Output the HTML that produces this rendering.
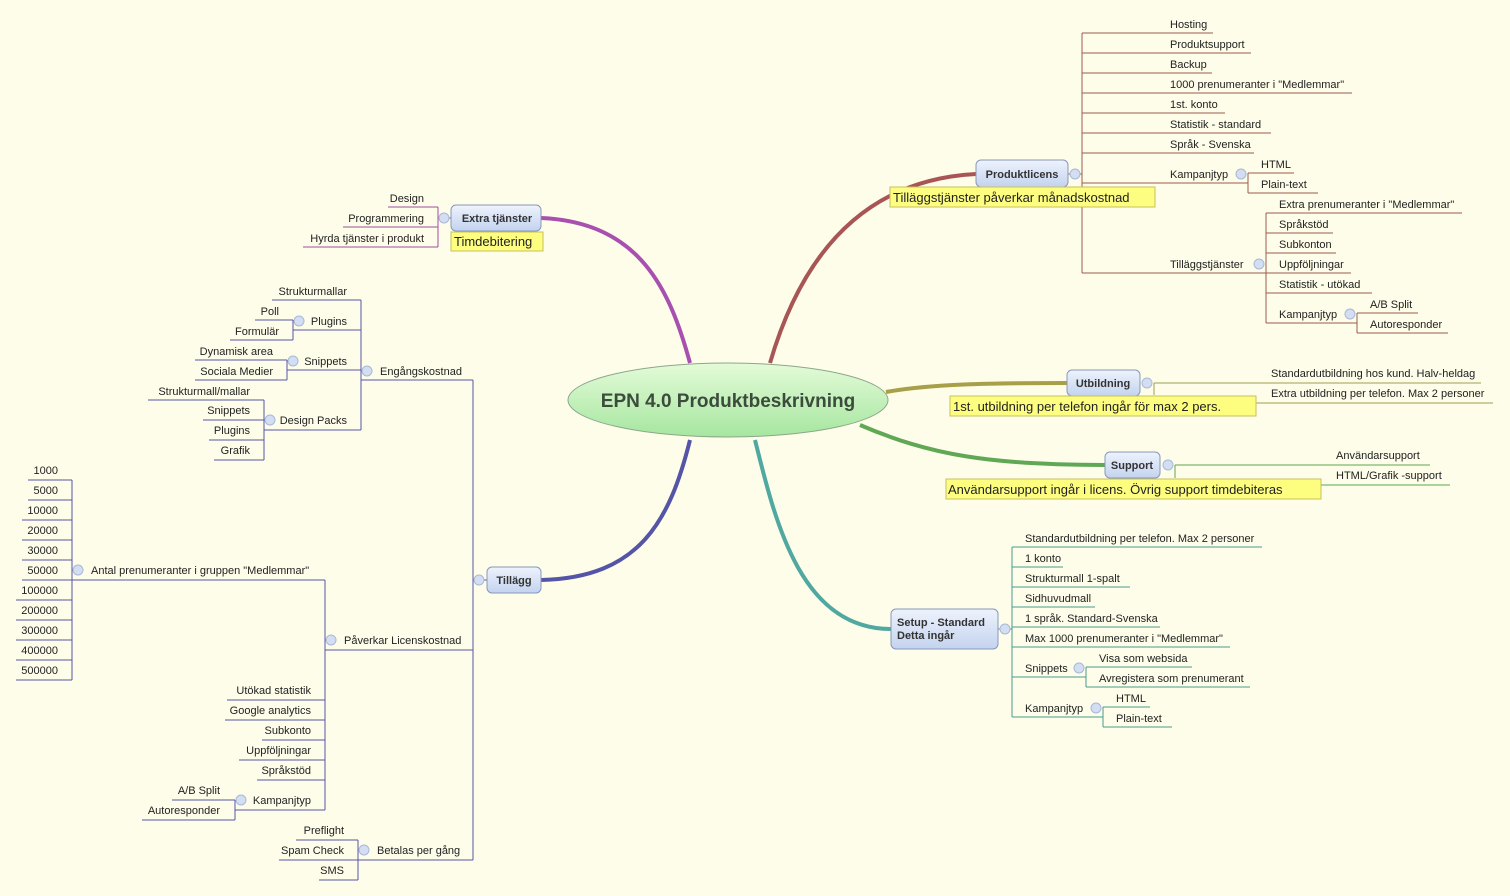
<!DOCTYPE html>
<html><head><meta charset="utf-8"><style>
html,body{margin:0;padding:0;background:#fdfde9;}
svg{display:block;}
text{font-family:"Liberation Sans",sans-serif;font-size:11px;fill:#222;}
.r{text-anchor:end;}
.nb{font-weight:bold;font-size:11px;fill:#333;text-anchor:middle;}
.lb{font-size:13px;fill:#222;}
.pl path{fill:none;stroke:#a05a50;stroke-width:1;}
.pu path{fill:none;stroke:#a050a0;stroke-width:1;}
.bl path{fill:none;stroke:#5858a8;stroke-width:1;}
.tl path{fill:none;stroke:#4a9a8a;stroke-width:1;}
.ol path{fill:none;stroke:#a0a050;stroke-width:1;}
.gr path{fill:none;stroke:#60a850;stroke-width:1;}
.c{fill:#d4def2;stroke:#a8b8d8;stroke-width:1;}
</style></head><body>
<svg width="1510" height="896" viewBox="0 0 1510 896" xmlns="http://www.w3.org/2000/svg">
<defs>
<linearGradient id="eg" x1="0" y1="0" x2="0" y2="1"><stop offset="0" stop-color="#e4fbd8"/><stop offset="1" stop-color="#a6e6a0"/></linearGradient>
<linearGradient id="ng" x1="0" y1="0" x2="0" y2="1"><stop offset="0" stop-color="#eef3fd"/><stop offset="1" stop-color="#c3d3ef"/></linearGradient>
</defs>

<path d="M770,363 C800,260 860,180 976,174" fill="none" stroke="#a85555" stroke-width="4"/>
<path d="M690,363 C670,290 640,222 541,218" fill="none" stroke="#a850b0" stroke-width="4"/>
<path d="M690,440 C670,520 640,578 541,580" fill="none" stroke="#5555a8" stroke-width="4"/>
<path d="M755,440 C775,520 800,629 891,629" fill="none" stroke="#50a8a0" stroke-width="4"/>
<path d="M886,392 C930,384 990,383 1067,383" fill="none" stroke="#a8a048" stroke-width="4"/>
<path d="M860,425 C930,455 990,465 1105,465" fill="none" stroke="#60a855" stroke-width="4"/>

<ellipse cx="728" cy="400" rx="160" ry="37" fill="url(#eg)" stroke="#8aa88a" stroke-width="1"/>
<text x="728" y="407" style="font-size:19px;font-weight:bold;fill:#3c4c3c;text-anchor:middle">EPN 4.0 Produktbeskrivning</text>

<g class="pl">
<path d="M1068,174 H1082"/>
<path d="M1082,33 V273"/>
<path d="M1082,33 H1213"/><path d="M1082,53 H1251"/><path d="M1082,73 H1212"/><path d="M1082,93 H1352"/>
<path d="M1082,113 H1225"/><path d="M1082,133 H1271"/><path d="M1082,153 H1254"/><path d="M1082,183 H1248"/>
<path d="M1082,273 H1266"/>
<path d="M1248,173 V193"/><path d="M1248,173 H1294"/><path d="M1248,193 H1318"/>
<path d="M1266,213 V323"/>
<path d="M1266,213 H1462"/><path d="M1266,233 H1333"/><path d="M1266,253 H1336"/><path d="M1266,273 H1351"/><path d="M1266,293 H1372"/><path d="M1266,323 H1357"/>
<path d="M1357,313 V333"/><path d="M1357,313 H1418"/><path d="M1357,333 H1448"/>
</g>
<text x="1170" y="28">Hosting</text><text x="1170" y="48">Produktsupport</text><text x="1170" y="68">Backup</text>
<text x="1170" y="88">1000 prenumeranter i "Medlemmar"</text><text x="1170" y="108">1st. konto</text>
<text x="1170" y="128">Statistik - standard</text><text x="1170" y="148">Språk - Svenska</text>
<text x="1170" y="178">Kampanjtyp</text><text x="1261" y="168">HTML</text><text x="1261" y="188">Plain-text</text>
<text x="1170" y="268">Tilläggstjänster</text>
<text x="1279" y="208">Extra prenumeranter i "Medlemmar"</text><text x="1279" y="228">Språkstöd</text>
<text x="1279" y="248">Subkonton</text><text x="1279" y="268">Uppföljningar</text><text x="1279" y="288">Statistik - utökad</text>
<text x="1279" y="318">Kampanjtyp</text><text x="1370" y="308">A/B Split</text><text x="1370" y="328">Autoresponder</text>
<circle class="c" cx="1075" cy="174" r="5"/><circle class="c" cx="1241" cy="174" r="5"/><circle class="c" cx="1259" cy="264" r="5"/><circle class="c" cx="1350" cy="314" r="5"/>
<rect x="976" y="160" width="92" height="27" rx="5" fill="url(#ng)" stroke="#8898bb"/>
<text class="nb" x="1022" y="178">Produktlicens</text>
<rect x="890" y="187" width="265" height="20" fill="#fdfd80" stroke="#c8c060"/>
<text class="lb" x="893" y="202">Tilläggstjänster påverkar månadskostnad</text>

<g class="pu">
<path d="M438,218 H451"/><path d="M438,207 V247"/>
<path d="M388,207 H438"/><path d="M343,227 H438"/><path d="M303,247 H438"/>
</g>
<text class="r" x="424" y="202">Design</text><text class="r" x="424" y="222">Programmering</text><text class="r" x="424" y="242">Hyrda tjänster i produkt</text>
<circle class="c" cx="444" cy="218" r="5"/>
<rect x="451" y="205" width="90" height="26" rx="5" fill="url(#ng)" stroke="#8898bb"/>
<text class="nb" x="497" y="222">Extra tjänster</text>
<rect x="451" y="232" width="92" height="19" fill="#fdfd80" stroke="#c8c060"/>
<text class="lb" x="454" y="246">Timdebitering</text>

<g class="ol">
<path d="M1154,383 V395"/><path d="M1154,383 H1481"/><path d="M1256,403 H1493"/>
</g>
<text x="1271" y="377">Standardutbildning hos kund. Halv-heldag</text>
<text x="1271" y="397">Extra utbildning per telefon. Max 2 personer</text>
<circle class="c" cx="1147" cy="383" r="5"/>
<rect x="1067" y="370" width="73" height="26" rx="5" fill="url(#ng)" stroke="#8898bb"/>
<text class="nb" x="1103" y="387">Utbildning</text>
<rect x="950" y="396" width="306" height="20" fill="#fdfd80" stroke="#c8c060"/>
<text class="lb" x="953" y="411">1st. utbildning per telefon ingår för max 2 pers.</text>

<g class="gr">
<path d="M1175,465 V478"/><path d="M1175,465 H1430"/><path d="M1321,485 H1450"/>
</g>
<text x="1336" y="459">Användarsupport</text><text x="1336" y="479">HTML/Grafik -support</text>
<circle class="c" cx="1168" cy="465" r="5"/>
<rect x="1105" y="452" width="55" height="26" rx="5" fill="url(#ng)" stroke="#8898bb"/>
<text class="nb" x="1132" y="469">Support</text>
<rect x="946" y="479" width="375" height="20" fill="#fdfd80" stroke="#c8c060"/>
<text class="lb" x="948" y="494">Användarsupport ingår i licens. Övrig support timdebiteras</text>

<g class="tl">
<path d="M998,629 H1012"/><path d="M1012,547 V717"/>
<path d="M1012,547 H1262"/><path d="M1012,567 H1063"/><path d="M1012,587 H1130"/><path d="M1012,607 H1095"/>
<path d="M1012,627 H1160"/><path d="M1012,647 H1230"/><path d="M1012,677 H1086"/><path d="M1012,717 H1103"/>
<path d="M1086,667 V687"/><path d="M1086,667 H1192"/><path d="M1086,687 H1250"/>
<path d="M1103,707 V727"/><path d="M1103,707 H1150"/><path d="M1103,727 H1172"/>
</g>
<text x="1025" y="542">Standardutbildning per telefon. Max 2 personer</text><text x="1025" y="562">1 konto</text>
<text x="1025" y="582">Strukturmall 1-spalt</text><text x="1025" y="602">Sidhuvudmall</text>
<text x="1025" y="622">1 språk. Standard-Svenska</text><text x="1025" y="642">Max 1000 prenumeranter i "Medlemmar"</text>
<text x="1025" y="672">Snippets</text><text x="1099" y="662">Visa som websida</text><text x="1099" y="682">Avregistera som prenumerant</text>
<text x="1025" y="712">Kampanjtyp</text><text x="1116" y="702">HTML</text><text x="1116" y="722">Plain-text</text>
<circle class="c" cx="1005" cy="629" r="5"/><circle class="c" cx="1079" cy="668" r="5"/><circle class="c" cx="1096" cy="708" r="5"/>
<rect x="891" y="609" width="107" height="40" rx="5" fill="url(#ng)" stroke="#8898bb"/>
<text x="897" y="626" style="font-weight:bold;font-size:11px;fill:#333">Setup - Standard</text>
<text x="897" y="639" style="font-weight:bold;font-size:11px;fill:#333">Detta ingår</text>

<g class="bl">
<path d="M473,580 H487"/><path d="M473,380 V860"/>
<path d="M361,380 H473"/><path d="M325,650 H473"/><path d="M358,860 H473"/>
<path d="M361,300 V430"/>
<path d="M272,300 H361"/><path d="M293,330 H361"/><path d="M287,370 H361"/><path d="M264,430 H361"/>
<path d="M293,320 V340"/><path d="M255,320 H293"/><path d="M230,340 H293"/>
<path d="M287,360 V380"/><path d="M195,360 H287"/><path d="M195,380 H287"/>
<path d="M264,400 V460"/><path d="M148,400 H264"/><path d="M203,420 H264"/><path d="M209,440 H264"/><path d="M214,460 H264"/>
<path d="M325,580 V810"/>
<path d="M72,580 H325"/>
<path d="M72,480 V680"/>
<path d="M28,480 H72"/><path d="M28,500 H72"/><path d="M22,520 H72"/><path d="M22,540 H72"/><path d="M22,560 H72"/>
<path d="M22,580 H72"/><path d="M16,600 H72"/><path d="M16,620 H72"/><path d="M16,640 H72"/><path d="M16,660 H72"/><path d="M16,680 H72"/>
<path d="M227,700 H325"/><path d="M225,720 H325"/><path d="M262,740 H325"/><path d="M239,760 H325"/><path d="M257,780 H325"/><path d="M235,810 H325"/>
<path d="M235,800 V820"/><path d="M172,800 H235"/><path d="M142,820 H235"/>
<path d="M358,840 V880"/><path d="M296,840 H358"/><path d="M279,860 H358"/><path d="M319,880 H358"/>
</g>
<text x="380" y="375">Engångskostnad</text>
<text class="r" x="347" y="295">Strukturmallar</text><text class="r" x="347" y="325">Plugins</text>
<text class="r" x="279" y="315">Poll</text><text class="r" x="279" y="335">Formulär</text>
<text class="r" x="347" y="365">Snippets</text>
<text class="r" x="273" y="355">Dynamisk area</text><text class="r" x="273" y="375">Sociala Medier</text>
<text class="r" x="347" y="424">Design Packs</text>
<text class="r" x="250" y="395">Strukturmall/mallar</text><text class="r" x="250" y="414">Snippets</text>
<text class="r" x="250" y="434">Plugins</text><text class="r" x="250" y="454">Grafik</text>
<text x="91" y="574">Antal prenumeranter i gruppen "Medlemmar"</text>
<text class="r" x="58" y="474">1000</text><text class="r" x="58" y="494">5000</text><text class="r" x="58" y="514">10000</text>
<text class="r" x="58" y="534">20000</text><text class="r" x="58" y="554">30000</text><text class="r" x="58" y="574">50000</text>
<text class="r" x="58" y="594">100000</text><text class="r" x="58" y="614">200000</text><text class="r" x="58" y="634">300000</text>
<text class="r" x="58" y="654">400000</text><text class="r" x="58" y="674">500000</text>
<text x="344" y="644">Påverkar Licenskostnad</text>
<text class="r" x="311" y="694">Utökad statistik</text><text class="r" x="311" y="714">Google analytics</text>
<text class="r" x="311" y="734">Subkonto</text><text class="r" x="311" y="754">Uppföljningar</text>
<text class="r" x="311" y="774">Språkstöd</text><text class="r" x="311" y="804">Kampanjtyp</text>
<text class="r" x="220" y="794">A/B Split</text><text class="r" x="220" y="814">Autoresponder</text>
<text x="377" y="854">Betalas per gång</text>
<text class="r" x="344" y="834">Preflight</text><text class="r" x="344" y="854">Spam Check</text><text class="r" x="344" y="874">SMS</text>
<circle class="c" cx="479" cy="580" r="5"/><circle class="c" cx="367" cy="371" r="5"/><circle class="c" cx="299" cy="321" r="5"/>
<circle class="c" cx="293" cy="361" r="5"/><circle class="c" cx="270" cy="420" r="5"/><circle class="c" cx="78" cy="570" r="5"/>
<circle class="c" cx="331" cy="640" r="5"/><circle class="c" cx="241" cy="800" r="5"/><circle class="c" cx="364" cy="850" r="5"/>
<rect x="487" y="567" width="54" height="26" rx="5" fill="url(#ng)" stroke="#8898bb"/>
<text class="nb" x="514" y="584">Tillägg</text>
</svg>
</body></html>
